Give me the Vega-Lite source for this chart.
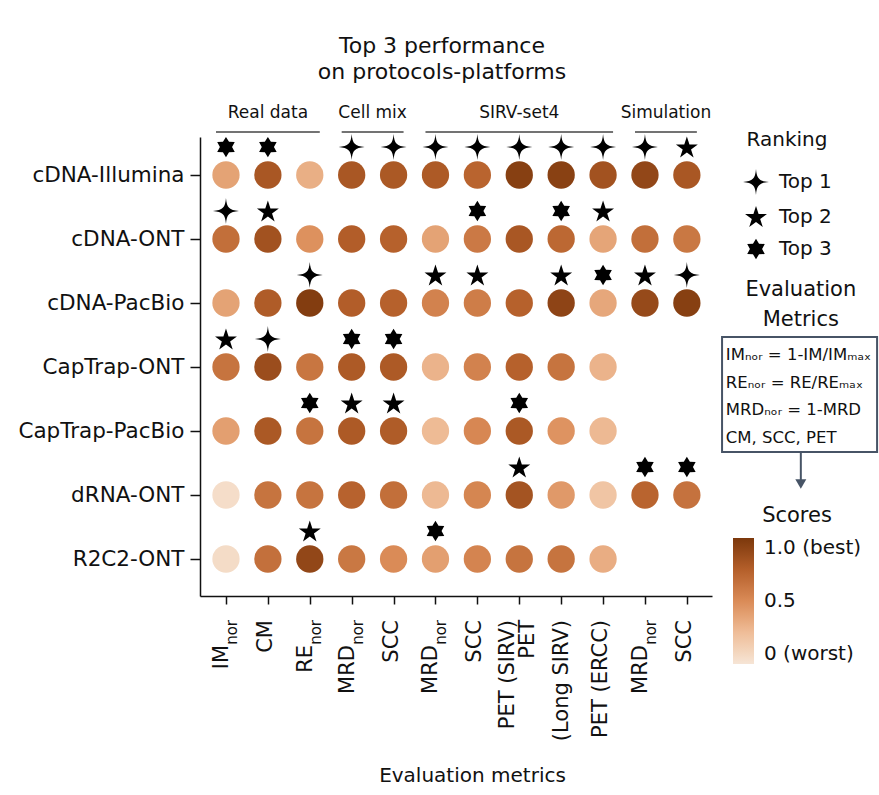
{
  "$schema": "https://vega.github.io/schema/vega-lite/v6.json",
  "width": 512,
  "height": 459,
  "autosize": {"type": "none"},
  "padding": {"left": 200, "top": 137, "right": 167, "bottom": 199},
  "background": "white",
  "config": {
    "font": "DejaVu Sans",
    "view": {"stroke": null},
    "axis": {"grid": false, "domainColor": "#111", "tickColor": "#111", "labelColor": "#111", "titleColor": "#111", "domainWidth": 1.5, "tickWidth": 1.5},
    "legend": {"labelColor": "#111", "titleColor": "#111"}
  },
  "title": {"text": ["Top 3 performance", "on protocols-platforms"], "fontSize": 22, "fontWeight": "normal", "anchor": "middle", "frame": "group", "dx": -14, "offset": 20, "lineHeight": 26, "color": "#111"},
  "datasets": {
    "cells": [
      {"platform": "cDNA-Illumina", "row": 1, "col": 1, "score": 0.38, "rank": "Top 3"},
      {"platform": "cDNA-Illumina", "row": 1, "col": 2, "score": 0.8, "rank": "Top 3"},
      {"platform": "cDNA-Illumina", "row": 1, "col": 3, "score": 0.32},
      {"platform": "cDNA-Illumina", "row": 1, "col": 4, "score": 0.8, "rank": "Top 1"},
      {"platform": "cDNA-Illumina", "row": 1, "col": 5, "score": 0.79, "rank": "Top 1"},
      {"platform": "cDNA-Illumina", "row": 1, "col": 6, "score": 0.78, "rank": "Top 1"},
      {"platform": "cDNA-Illumina", "row": 1, "col": 7, "score": 0.72, "rank": "Top 1"},
      {"platform": "cDNA-Illumina", "row": 1, "col": 8, "score": 0.95, "rank": "Top 1"},
      {"platform": "cDNA-Illumina", "row": 1, "col": 9, "score": 0.94, "rank": "Top 1"},
      {"platform": "cDNA-Illumina", "row": 1, "col": 10, "score": 0.83, "rank": "Top 1"},
      {"platform": "cDNA-Illumina", "row": 1, "col": 11, "score": 0.9, "rank": "Top 1"},
      {"platform": "cDNA-Illumina", "row": 1, "col": 12, "score": 0.8, "rank": "Top 2"},
      {"platform": "cDNA-ONT", "row": 2, "col": 1, "score": 0.66, "rank": "Top 1"},
      {"platform": "cDNA-ONT", "row": 2, "col": 2, "score": 0.83, "rank": "Top 2"},
      {"platform": "cDNA-ONT", "row": 2, "col": 3, "score": 0.47},
      {"platform": "cDNA-ONT", "row": 2, "col": 4, "score": 0.76},
      {"platform": "cDNA-ONT", "row": 2, "col": 5, "score": 0.74},
      {"platform": "cDNA-ONT", "row": 2, "col": 6, "score": 0.38},
      {"platform": "cDNA-ONT", "row": 2, "col": 7, "score": 0.6, "rank": "Top 3"},
      {"platform": "cDNA-ONT", "row": 2, "col": 8, "score": 0.8},
      {"platform": "cDNA-ONT", "row": 2, "col": 9, "score": 0.7, "rank": "Top 3"},
      {"platform": "cDNA-ONT", "row": 2, "col": 10, "score": 0.37, "rank": "Top 2"},
      {"platform": "cDNA-ONT", "row": 2, "col": 11, "score": 0.66},
      {"platform": "cDNA-ONT", "row": 2, "col": 12, "score": 0.61},
      {"platform": "cDNA-PacBio", "row": 3, "col": 1, "score": 0.38},
      {"platform": "cDNA-PacBio", "row": 3, "col": 2, "score": 0.77},
      {"platform": "cDNA-PacBio", "row": 3, "col": 3, "score": 0.97, "rank": "Top 1"},
      {"platform": "cDNA-PacBio", "row": 3, "col": 4, "score": 0.76},
      {"platform": "cDNA-PacBio", "row": 3, "col": 5, "score": 0.74},
      {"platform": "cDNA-PacBio", "row": 3, "col": 6, "score": 0.55, "rank": "Top 2"},
      {"platform": "cDNA-PacBio", "row": 3, "col": 7, "score": 0.58, "rank": "Top 2"},
      {"platform": "cDNA-PacBio", "row": 3, "col": 8, "score": 0.74},
      {"platform": "cDNA-PacBio", "row": 3, "col": 9, "score": 0.92, "rank": "Top 2"},
      {"platform": "cDNA-PacBio", "row": 3, "col": 10, "score": 0.36, "rank": "Top 3"},
      {"platform": "cDNA-PacBio", "row": 3, "col": 11, "score": 0.88, "rank": "Top 2"},
      {"platform": "cDNA-PacBio", "row": 3, "col": 12, "score": 0.95, "rank": "Top 1"},
      {"platform": "CapTrap-ONT", "row": 4, "col": 1, "score": 0.63, "rank": "Top 2"},
      {"platform": "CapTrap-ONT", "row": 4, "col": 2, "score": 0.86, "rank": "Top 1"},
      {"platform": "CapTrap-ONT", "row": 4, "col": 3, "score": 0.62},
      {"platform": "CapTrap-ONT", "row": 4, "col": 4, "score": 0.78, "rank": "Top 3"},
      {"platform": "CapTrap-ONT", "row": 4, "col": 5, "score": 0.78, "rank": "Top 3"},
      {"platform": "CapTrap-ONT", "row": 4, "col": 6, "score": 0.3},
      {"platform": "CapTrap-ONT", "row": 4, "col": 7, "score": 0.55},
      {"platform": "CapTrap-ONT", "row": 4, "col": 8, "score": 0.74},
      {"platform": "CapTrap-ONT", "row": 4, "col": 9, "score": 0.63},
      {"platform": "CapTrap-ONT", "row": 4, "col": 10, "score": 0.3},
      {"platform": "CapTrap-PacBio", "row": 5, "col": 1, "score": 0.4},
      {"platform": "CapTrap-PacBio", "row": 5, "col": 2, "score": 0.79},
      {"platform": "CapTrap-PacBio", "row": 5, "col": 3, "score": 0.63, "rank": "Top 3"},
      {"platform": "CapTrap-PacBio", "row": 5, "col": 4, "score": 0.78, "rank": "Top 2"},
      {"platform": "CapTrap-PacBio", "row": 5, "col": 5, "score": 0.77, "rank": "Top 2"},
      {"platform": "CapTrap-PacBio", "row": 5, "col": 6, "score": 0.26},
      {"platform": "CapTrap-PacBio", "row": 5, "col": 7, "score": 0.52},
      {"platform": "CapTrap-PacBio", "row": 5, "col": 8, "score": 0.79, "rank": "Top 3"},
      {"platform": "CapTrap-PacBio", "row": 5, "col": 9, "score": 0.46},
      {"platform": "CapTrap-PacBio", "row": 5, "col": 10, "score": 0.27},
      {"platform": "dRNA-ONT", "row": 6, "col": 1, "score": 0.05},
      {"platform": "dRNA-ONT", "row": 6, "col": 2, "score": 0.63},
      {"platform": "dRNA-ONT", "row": 6, "col": 3, "score": 0.63},
      {"platform": "dRNA-ONT", "row": 6, "col": 4, "score": 0.73},
      {"platform": "dRNA-ONT", "row": 6, "col": 5, "score": 0.66},
      {"platform": "dRNA-ONT", "row": 6, "col": 6, "score": 0.27},
      {"platform": "dRNA-ONT", "row": 6, "col": 7, "score": 0.53},
      {"platform": "dRNA-ONT", "row": 6, "col": 8, "score": 0.82, "rank": "Top 2"},
      {"platform": "dRNA-ONT", "row": 6, "col": 9, "score": 0.43},
      {"platform": "dRNA-ONT", "row": 6, "col": 10, "score": 0.2},
      {"platform": "dRNA-ONT", "row": 6, "col": 11, "score": 0.72, "rank": "Top 3"},
      {"platform": "dRNA-ONT", "row": 6, "col": 12, "score": 0.64, "rank": "Top 3"},
      {"platform": "R2C2-ONT", "row": 7, "col": 1, "score": 0.06},
      {"platform": "R2C2-ONT", "row": 7, "col": 2, "score": 0.65},
      {"platform": "R2C2-ONT", "row": 7, "col": 3, "score": 0.9, "rank": "Top 2"},
      {"platform": "R2C2-ONT", "row": 7, "col": 4, "score": 0.61},
      {"platform": "R2C2-ONT", "row": 7, "col": 5, "score": 0.5},
      {"platform": "R2C2-ONT", "row": 7, "col": 6, "score": 0.4, "rank": "Top 3"},
      {"platform": "R2C2-ONT", "row": 7, "col": 7, "score": 0.54},
      {"platform": "R2C2-ONT", "row": 7, "col": 8, "score": 0.63},
      {"platform": "R2C2-ONT", "row": 7, "col": 9, "score": 0.63},
      {"platform": "R2C2-ONT", "row": 7, "col": 10, "score": 0.33}
    ],
    "labels": [
      {"col": 1, "main": "IM", "sub": "nor", "kind": "sub"},
      {"col": 2, "main": "CM", "kind": "plain"},
      {"col": 3, "main": "RE", "sub": "nor", "kind": "sub"},
      {"col": 4, "main": "MRD", "sub": "nor", "kind": "sub"},
      {"col": 5, "main": "SCC", "kind": "plain"},
      {"col": 6, "main": "MRD", "sub": "nor", "kind": "sub"},
      {"col": 7, "main": "SCC", "kind": "plain"},
      {"col": 8, "main": "PET (SIRV)", "kind": "pet1"},
      {"col": 9, "main": "PET\n(Long SIRV)", "kind": "pet2"},
      {"col": 10, "main": "PET (ERCC)", "kind": "plain"},
      {"col": 11, "main": "MRD", "sub": "nor", "kind": "sub"},
      {"col": 12, "main": "SCC", "kind": "plain"}
    ],
    "groups": [
      {"group": "Real data", "from": 1, "to": 3, "mid": 2},
      {"group": "Cell mix", "from": 4, "to": 5, "mid": 4.5},
      {"group": "SIRV-set4", "from": 6, "to": 10, "mid": 8},
      {"group": "Simulation", "from": 11, "to": 12, "mid": 11.5}
    ]
  },
  "layer": [
    {
      "data": {"name": "cells"},
      "mark": {"type": "circle", "size": 745, "opacity": 1},
      "encoding": {
        "x": {"field": "col", "type": "quantitative",
          "scale": {"domain": [0.38, 12.6], "nice": false, "zero": false},
          "axis": {"values": [1,2,3,4,5,6,7,8,9,10,11,12], "labels": false, "tickSize": 8, "title": "Evaluation metrics", "titleFontSize": 20, "titleFontWeight": "normal", "titleX": 272, "titleY": 179, "titleBaseline": "middle", "titleAlign": "center"}},
        "y": {"field": "row", "type": "quantitative",
          "scale": {"domain": [0.406, 7.578], "nice": false, "zero": false, "reverse": true},
          "axis": {"values": [1,2,3,4,5,6,7], "labelExpr": "['', 'cDNA-Illumina', 'cDNA-ONT', 'cDNA-PacBio', 'CapTrap-ONT', 'CapTrap-PacBio', 'dRNA-ONT', 'R2C2-ONT'][datum.value]", "labelFontSize": 21.5, "tickSize": 10, "labelPadding": 6, "title": null}},
        "color": {"field": "score", "type": "quantitative",
          "scale": {"domain": [0, 0.25, 0.5, 0.75, 1], "range": ["#f6e5d6", "#efbd98", "#da8b57", "#b45f2a", "#7c380c"]},
          "legend": {"title": "Scores", "orient": "none", "legendX": 533, "legendY": 368, "direction": "vertical", "gradientLength": 126, "gradientThickness": 21, "values": [0, 0.5, 1], "labelExpr": "datum.value == 1 ? '1.0 (best)' : datum.value == 0 ? '0 (worst)' : '0.5'", "labelFontSize": 20, "titleFontSize": 21, "titleFontWeight": "normal", "titleAnchor": "middle", "titlePadding": 12, "labelOffset": 10, "gradientStrokeWidth": 0}}
      }
    },
    {
      "data": {"name": "cells"},
      "transform": [{"filter": "isValid(datum.rank)"}],
      "mark": {"type": "point", "filled": true, "size": 676, "yOffset": -28, "opacity": 1, "strokeWidth": 0},
      "encoding": {
        "x": {"field": "col", "type": "quantitative"},
        "y": {"field": "row", "type": "quantitative"},
        "shape": {"field": "rank", "type": "nominal",
          "scale": {"domain": ["Top 1", "Top 2", "Top 3"], "range": [
            "M0,-1C0.06,-0.25 0.25,-0.06 1,0C0.25,0.06 0.06,0.25 0,1C-0.06,0.25 -0.25,0.06 -1,0C-0.25,-0.06 -0.06,-0.25 0,-1Z",
            "M0,-0.8L0.199,-0.188L0.842,-0.188L0.321,0.189L0.52,0.8L0,0.423L-0.52,0.8L-0.321,0.189L-0.842,-0.188L-0.199,-0.188Z",
            "M0,-0.78L0.234,-0.405L0.675,-0.39L0.468,0L0.675,0.39L0.234,0.405L0,0.78L-0.234,0.405L-0.675,0.39L-0.468,0L-0.675,-0.39L-0.234,-0.405Z"
          ]},
          "legend": {"title": "Ranking", "orient": "none", "legendX": 543, "legendY": -7, "titleFontSize": 20, "titleFontWeight": "normal", "titleAnchor": "middle", "titlePadding": 19, "labelFontSize": 20, "symbolSize": 676, "symbolFillColor": "black", "symbolStrokeWidth": 0, "rowPadding": 8.5, "labelOffset": 10}},
        "color": {"value": "black"}
      }
    },
    {
      "data": {"name": "groups"},
      "mark": {"type": "rule", "xOffset": -10, "x2Offset": 10, "strokeWidth": 1.5, "color": "#444"},
      "encoding": {
        "x": {"field": "from", "type": "quantitative"},
        "x2": {"field": "to"},
        "y": {"datum": 0.328, "type": "quantitative"}
      }
    },
    {
      "data": {"name": "groups"},
      "mark": {"type": "text", "fontSize": 17, "baseline": "middle", "align": "center", "color": "#111"},
      "encoding": {
        "x": {"field": "mid", "type": "quantitative"},
        "y": {"datum": 0.031, "type": "quantitative"},
        "text": {"field": "group"}
      }
    },
    {
      "data": {"name": "labels"},
      "transform": [{"filter": "datum.kind == 'plain'"}],
      "mark": {"type": "text", "fontSize": 21, "angle": 270, "align": "right", "baseline": "middle", "dy": -2, "color": "#111"},
      "encoding": {
        "x": {"field": "col", "type": "quantitative"},
        "y": {"datum": 7.953, "type": "quantitative"},
        "text": {"field": "main"}
      }
    },
    {
      "data": {"name": "labels"},
      "transform": [{"filter": "datum.kind == 'sub'"}],
      "mark": {"type": "text", "fontSize": 21, "angle": 270, "align": "right", "baseline": "middle", "dx": -25, "dy": -4, "color": "#111"},
      "encoding": {
        "x": {"field": "col", "type": "quantitative"},
        "y": {"datum": 7.953, "type": "quantitative"},
        "text": {"field": "main"}
      }
    },
    {
      "data": {"name": "labels"},
      "transform": [{"filter": "datum.kind == 'sub'"}],
      "mark": {"type": "text", "fontSize": 15, "angle": 270, "align": "right", "baseline": "middle", "dy": 6, "color": "#111"},
      "encoding": {
        "x": {"field": "col", "type": "quantitative"},
        "y": {"datum": 7.953, "type": "quantitative"},
        "text": {"field": "sub"}
      }
    },
    {
      "data": {"name": "labels"},
      "transform": [{"filter": "datum.kind == 'pet1'"}],
      "mark": {"type": "text", "fontSize": 21, "angle": 270, "align": "right", "baseline": "middle", "dy": -11, "color": "#111"},
      "encoding": {
        "x": {"field": "col", "type": "quantitative"},
        "y": {"datum": 7.953, "type": "quantitative"},
        "text": {"field": "main"}
      }
    },
    {
      "data": {"name": "labels"},
      "transform": [{"filter": "datum.kind == 'pet2'"}],
      "mark": {"type": "text", "fontSize": 21, "angle": 270, "align": "right", "baseline": "middle", "dy": -33, "lineBreak": "\n", "lineHeight": 34, "color": "#111"},
      "encoding": {
        "x": {"field": "col", "type": "quantitative"},
        "y": {"datum": 7.953, "type": "quantitative"},
        "text": {"field": "main"}
      }
    },
    {
      "data": {"values": [{}]},
      "mark": {"type": "text", "fontSize": 21, "align": "center", "baseline": "middle", "lineBreak": "\n", "lineHeight": 30, "color": "#111"},
      "encoding": {
        "x": {"datum": 14.72, "type": "quantitative"},
        "y": {"datum": 2.797, "type": "quantitative"},
        "text": {"value": "Evaluation\nMetrics"}
      }
    },
    {
      "data": {"values": [{}]},
      "mark": {"type": "rect", "fill": "white", "stroke": "#475466", "strokeWidth": 2},
      "encoding": {
        "x": {"datum": 12.84, "type": "quantitative"},
        "x2": {"datum": 16.54},
        "y": {"datum": 3.531, "type": "quantitative"},
        "y2": {"datum": 5.328}
      }
    },
    {
      "data": {"values": [{}]},
      "mark": {"type": "text", "fontSize": 16.5, "align": "left", "baseline": "middle", "lineBreak": "\n", "lineHeight": 27.7, "color": "#111"},
      "encoding": {
        "x": {"datum": 12.93, "type": "quantitative"},
        "y": {"datum": 3.812, "type": "quantitative"},
        "text": {"value": "IMₙₒᵣ = 1-IM/IMₘₐₓ\nREₙₒᵣ = RE/REₘₐₓ\nMRDₙₒᵣ = 1-MRD\nCM, SCC, PET"}
      }
    },
    {
      "data": {"values": [{}]},
      "mark": {"type": "rule", "strokeWidth": 2, "color": "#475466"},
      "encoding": {
        "x": {"datum": 14.72, "type": "quantitative"},
        "y": {"datum": 5.328, "type": "quantitative"},
        "y2": {"datum": 5.8}
      }
    },
    {
      "data": {"values": [{}]},
      "mark": {"type": "point", "shape": "triangle-down", "filled": true, "size": 121, "color": "#475466", "opacity": 1},
      "encoding": {
        "x": {"datum": 14.72, "type": "quantitative"},
        "y": {"datum": 5.828, "type": "quantitative"}
      }
    }
  ]
}
